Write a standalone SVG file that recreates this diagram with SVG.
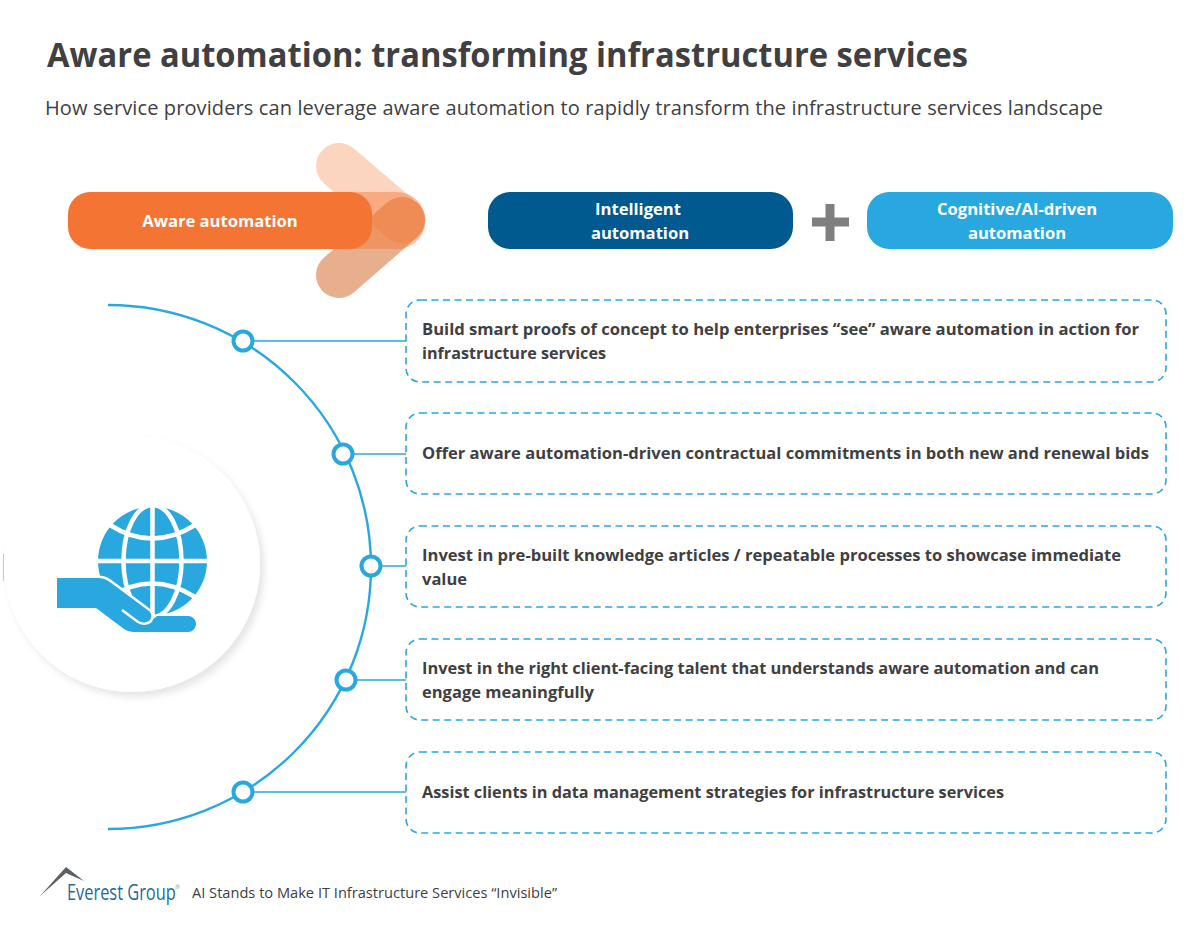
<svg xmlns="http://www.w3.org/2000/svg" width="1200" height="933" viewBox="0 0 1200 933">
<defs>
<style>
text{font-family:"Open Sans","Noto Sans","Liberation Sans",sans-serif}
.pill{font-size:16.600px;font-weight:700;fill:#fff;text-anchor:middle}
.box{fill:#fff;stroke:#29a8e0;stroke-width:1.600;stroke-dasharray:7 4.500}
.t{font-size:16.500px;font-weight:700;fill:#404042}
.dot{fill:#fff;stroke:#29a8e0;stroke-width:4}
.ln{fill:none;stroke:#29a8e0}
</style>
<filter id="sh" x="-20%" y="-20%" width="140%" height="140%"><feDropShadow dx="4" dy="5" stdDeviation="3.500" flood-color="#000" flood-opacity=".1"/></filter>
</defs>
<rect width="1200" height="933" fill="#fff"/>
<text id="title" x="47" y="67" font-size="33.500" font-weight="700" fill="#404042" textLength="921" lengthAdjust="spacingAndGlyphs">Aware automation: transforming infrastructure services</text>
<text id="subtitle" x="45" y="115" font-size="20" fill="#404042" textLength="1058">How service providers can leverage aware automation to rapidly transform the infrastructure services landscape</text>
<g id="aware-arrow">
<path d="M339 275L402 220" stroke="#d87a45" stroke-opacity=".6" stroke-width="46" stroke-linecap="round" fill="none"/>
<path d="M339 166L402 220" stroke="#f47533" stroke-opacity=".3" stroke-width="46" stroke-linecap="round" fill="none"/>
<path d="M345 192h52a28.500 28.500 0 0 1 0 57h-52z" fill="#f47533" opacity=".45"/>
</g>
<g id="node-aware"><rect x="68" y="192" width="304" height="57" rx="22" fill="#f47533"/><text class="pill" x="220" y="227">Aware automation</text></g>
<g id="node-intelligent"><rect x="488" y="192" width="305" height="57" rx="22" fill="#005a8f"/><text class="pill" x="638" y="215">Intelligent</text><text class="pill" x="640" y="239">automation</text></g>
<path id="plus" d="M825.500 204h9v13.500h14.500v9h-14.500v14.500h-9v-14.500h-13.500v-9h13.500z" fill="#7f7f7f"/>
<g id="node-cognitive"><rect x="867" y="192" width="306" height="57" rx="22" fill="#29a8e0"/><text class="pill" x="1017" y="215">Cognitive/AI-driven</text><text class="pill" x="1017" y="239">automation</text></g>
<g id="connectors">
<path class="ln" stroke-width="2.400" d="M108 305A263 262 0 0 1 108 829"/>
<path class="ln" stroke-width="1.600" d="M243 341H406M343 454H406M371 566H406M346 680H406M243 792H406"/>
</g>
<g id="step-1"><rect class="box" x="406" y="300" width="760" height="82" rx="14"/><circle class="dot" cx="243" cy="341" r="9.500"/><text class="t" x="422" y="335" textLength="717" lengthAdjust="spacingAndGlyphs">Build smart proofs of concept to help enterprises “see” aware automation in action for</text><text class="t" x="422" y="359" textLength="184" lengthAdjust="spacingAndGlyphs">infrastructure services</text></g>
<g id="step-2"><rect class="box" x="406" y="413" width="760" height="81" rx="14"/><circle class="dot" cx="343" cy="454" r="9.500"/><text class="t" x="422" y="459" textLength="727" lengthAdjust="spacingAndGlyphs">Offer aware automation-driven contractual commitments in both new and renewal bids</text></g>
<g id="step-3"><rect class="box" x="406" y="526" width="760" height="81" rx="14"/><circle class="dot" cx="371" cy="566" r="9.500"/><text class="t" x="422" y="561" textLength="699" lengthAdjust="spacingAndGlyphs">Invest in pre-built knowledge articles / repeatable processes to showcase immediate</text><text class="t" x="422" y="585">value</text></g>
<g id="step-4"><rect class="box" x="406" y="639" width="760" height="81" rx="14"/><circle class="dot" cx="346" cy="680" r="9.500"/><text class="t" x="422" y="674" textLength="677" lengthAdjust="spacingAndGlyphs">Invest in the right client-facing talent that understands aware automation and can</text><text class="t" x="422" y="698" textLength="172" lengthAdjust="spacingAndGlyphs">engage meaningfully</text></g>
<g id="step-5"><rect class="box" x="406" y="752" width="760" height="81" rx="14"/><circle class="dot" cx="243" cy="792" r="9.500"/><text class="t" x="422" y="798" textLength="582" lengthAdjust="spacingAndGlyphs">Assist clients in data management strategies for infrastructure services</text></g>
<g id="globe-hand">
<circle cx="132" cy="564" r="128" fill="#fff" filter="url(#sh)"/>
<rect x="3" y="554" width="1" height="27" fill="#c8c8c8"/>
<circle cx="152.500" cy="561" r="54.500" fill="#29a8e0"/>
<g fill="none" stroke="#fff" stroke-width="4.500">
<path d="M97 561H208M152.500 505V617"/>
<ellipse cx="152.500" cy="561" rx="29" ry="56"/>
<path d="M110 525Q152 552 195 525M110 597Q152 570 195 597"/>
</g>
<path d="M57 578H103Q108 578 113 582L149 608Q153 613 152 620L157 616H188A8 8 0 0 1 188 632H133Q128 632 124 629L96 608H57Z" fill="#29a8e0"/>
<path d="M122 610L138 622Q146 626 151 621Q154 616 151 611L112 582Q106 577 100 577" fill="none" stroke="#fff" stroke-width="2.500"/>
</g>
<g id="footer">
<path d="M40 896L66 867L84 881L66 873Z" fill="#5c6064"/>
<text transform="translate(67 900) scale(.78 1)" font-size="21" fill="#1f6a9a">Everest Group</text>
<text x="175" y="889" font-size="6" fill="#999">®</text>
<text x="192" y="898" font-size="14.500" fill="#404042" textLength="365" lengthAdjust="spacingAndGlyphs">AI Stands to Make IT Infrastructure Services “Invisible”</text>
</g>
</svg>
